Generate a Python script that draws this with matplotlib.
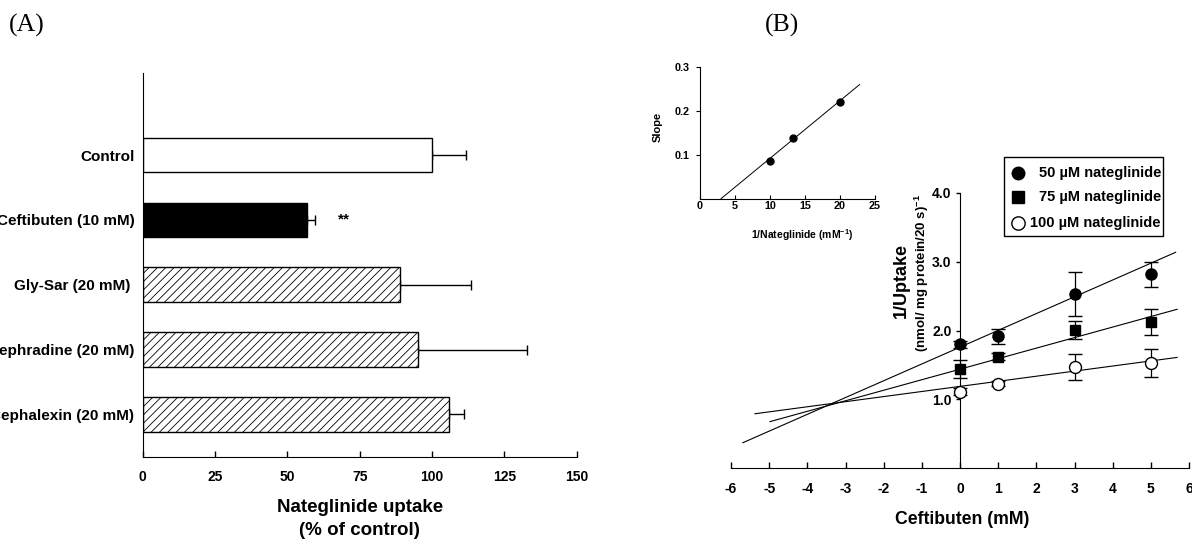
import matplotlib
matplotlib.use("Agg")
import matplotlib.pyplot as plt
from matplotlib.lines import Line2D
from matplotlib.patches import Rectangle
import numpy as np

plt.rcParams['font.family'] = ['Liberation Sans', 'DejaVu Sans']
plt.rcParams['font.weight'] = 'bold'
plt.rcParams['mathtext.fontset'] = 'custom'
plt.rcParams['mathtext.rm'] = 'Liberation Sans:bold'
plt.rcParams['mathtext.it'] = 'Liberation Sans:bold'
plt.rcParams['mathtext.bf'] = 'Liberation Sans:bold'
plt.rcParams['axes.unicode_minus'] = False
plt.rcParams['hatch.linewidth'] = 0.6

# panel A data
treatments = ["Control", "Ceftibuten (10 mM)", "Gly-Sar (20 mM) ",
              "Cephradine (20 mM)", "Cephalexin (20 mM)"]
uptake = [100.0, 56.7, 88.8, 95.1, 105.9]
uptake_err = [11.6, 3.0, 24.8, 37.7, 5.0]
a_ticks = [0, 25, 50, 75, 100, 125, 150]

# panel B data
ceftibuten = [0, 1, 3, 5]
conc_labels = ["50 \u00b5M nateglinide", "75 \u00b5M nateglinide", "100 \u00b5M nateglinide"]
inv_uptake_50 = [1.80, 1.92, 2.53, 2.82]
inv_err_50 = [0.05, 0.11, 0.32, 0.18]
inv_uptake_75 = [1.44, 1.62, 2.01, 2.12]
inv_err_75 = [0.13, 0.05, 0.13, 0.19]
inv_uptake_100 = [1.11, 1.23, 1.47, 1.53]
inv_err_100 = [0.05, 0.04, 0.19, 0.21]
fit_slope = [0.244, 0.153, 0.074]
fit_icpt = [1.76, 1.44, 1.19]
fit_x_start = [-5.69, -4.98, -5.37]
fit_x_end = [5.65, 5.69, 5.69]
b_xticks = list(range(-6, 7))
b_yticks = [1.0, 2.0, 3.0, 4.0]

# inset (replot of slopes)
inv_nateglinide = [10.0, 13.33, 20.0]
slope_vals = [0.085, 0.139, 0.219]
inset_fit_slope = 0.0131
inset_fit_icpt = -0.0393
inset_fit_x = [3.0, 22.8]

W, H = 1192, 547
fig = plt.figure(figsize=(W / 100, H / 100), dpi=100)

def fx(px):
    return px / W

def fy(py):
    return 1 - py / H

# ---------------- panel A ----------------
axA = fig.add_axes([fx(142.7), fy(457.3), fx(576.7 - 142.7), (457.3 - 72.7) / H])
pos = np.arange(len(treatments))
fills = ['white', 'black', 'white', 'white', 'white']
hatches = [None, None, '////', '////', '////']
for i in range(len(treatments)):
    axA.barh(pos[i], uptake[i], height=0.533, color=fills[i], edgecolor='black',
             linewidth=1.0, hatch=hatches[i], zorder=2)
axA.errorbar(uptake, pos, xerr=[[0] * len(uptake), uptake_err], fmt='none',
             ecolor='black', elinewidth=1.0, capsize=3.6, capthick=1.0, zorder=1)
axA.text(69.5, pos[1], "**", fontsize=11, fontweight='bold', ha='center', va='center')
axA.set_xlim(0, 150)
axA.set_ylim(4.66, -1.27)
axA.set_xticks(a_ticks)
axA.set_yticks(pos)
axA.set_yticklabels(treatments)
axA.spines['top'].set_visible(False)
axA.spines['right'].set_visible(False)
axA.tick_params(axis='x', direction='in', length=4.5, width=1, pad=9, labelsize=10)
axA.tick_params(axis='y', length=0, pad=6, labelsize=11)
axA.set_xlabel("Nateglinide uptake\n(% of control)", fontsize=13.5, fontweight='bold',
               linespacing=1.45, labelpad=11)

fig.text(fx(27), fy(25), "(A)", family='Liberation Serif', fontweight='normal',
         fontsize=18.5, ha='center', va='center')
fig.text(fx(782), fy(25), "(B)", family='Liberation Serif', fontweight='normal',
         fontsize=18.5, ha='center', va='center')

# ---------------- panel B ----------------
axB = fig.add_axes([fx(731), fy(468.3), fx(1189 - 731), (468.3 - 193) / H])
series = [(inv_uptake_50, inv_err_50, 'o', 'black', 8.0),
          (inv_uptake_75, inv_err_75, 's', 'black', 7.2),
          (inv_uptake_100, inv_err_100, 'o', 'white', 8.6)]
for k, (yv, ev, mk, fc, ms) in enumerate(series):
    xs = np.array([fit_x_start[k], fit_x_end[k]])
    axB.plot(xs, fit_slope[k] * xs + fit_icpt[k], color='black', lw=0.8, zorder=2)
    axB.errorbar(ceftibuten, yv, yerr=ev, fmt=mk, ms=ms, mfc=fc, mec='black', mew=1.0,
                 ecolor='black', elinewidth=0.9, capsize=4.7, capthick=0.9, zorder=3,
                 clip_on=False)
axB.set_xlim(-6, 6)
axB.set_ylim(0, 4)
axB.spines['left'].set_position(('data', 0))
axB.spines['bottom'].set_position(('data', 0))
axB.spines['top'].set_visible(False)
axB.spines['right'].set_visible(False)
axB.set_xticks(b_xticks)
axB.set_yticks(b_yticks)
axB.set_yticklabels(["%.1f" % v for v in b_yticks])
axB.tick_params(axis='x', direction='in', length=4, width=1, pad=10, labelsize=10)
axB.tick_params(axis='y', direction='out', length=3, width=1, pad=3, labelsize=10)
axB.patch.set_visible(False)

fig.text(fx(962), fy(520), "Ceftibuten (mM)", fontsize=12.7, fontweight='bold',
         ha='center', va='center')
fig.text(fx(901.7), fy(280.8), "1/Uptake", fontsize=13, fontweight='bold',
         rotation=90, ha='center', va='center')
fig.text(fx(921.7), fy(273), "(nmol/ mg protein/20 s)$^{-1}$", fontsize=9.5,
         fontweight='bold', rotation=90, ha='center', va='center')

# legend box, entries right-aligned like the original
fig.add_artist(Rectangle((fx(1004), fy(236)), fx(1163 - 1004), (236 - 157) / H,
                         transform=fig.transFigure, fill=False, edgecolor='black', lw=1.0))
leg_y = [172.7, 196.7, 223.0]
for k, (yv, ev, mk, fc, ms) in enumerate(series):
    fig.add_artist(Line2D([fx(1018)], [fy(leg_y[k])], transform=fig.transFigure,
                          marker=mk, ms=ms + 1.0, mfc=fc, mec='black', mew=1.0, ls='none'))
    fig.text(fx(1161), fy(leg_y[k]), conc_labels[k], fontsize=10.5, fontweight='bold',
             ha='right', va='center')

# ---------------- inset ----------------
axI = fig.add_axes([fx(700), fy(198.7), fx(175), (198.7 - 66.7) / H])
axI.patch.set_visible(False)
xi = np.array(inset_fit_x)
axI.plot(xi, inset_fit_slope * xi + inset_fit_icpt, color='black', lw=0.7)
axI.plot(inv_nateglinide, slope_vals, 'o', color='black', ms=5)
axI.set_xlim(0, 25)
axI.set_ylim(0, 0.3)
axI.set_xticks([0, 5, 10, 15, 20, 25])
axI.set_yticks([0.1, 0.2, 0.3])
axI.spines['top'].set_visible(False)
axI.spines['right'].set_visible(False)
axI.tick_params(axis='x', direction='in', length=3, width=0.8, pad=2, labelsize=7.8)
axI.tick_params(axis='y', direction='out', length=3, width=0.8, pad=4.5, labelsize=7.8)
for sp in axI.spines.values():
    sp.set_linewidth(0.8)
fig.text(fx(658), fy(127), "Slope", fontsize=8, fontweight='bold', rotation=90,
         ha='center', va='center')
fig.text(fx(802), fy(235), "1/Nateglinide (mM$^{-1}$)", fontsize=7.5, fontweight='bold',
         ha='center', va='center')

fig.savefig("out.png", dpi=100)
